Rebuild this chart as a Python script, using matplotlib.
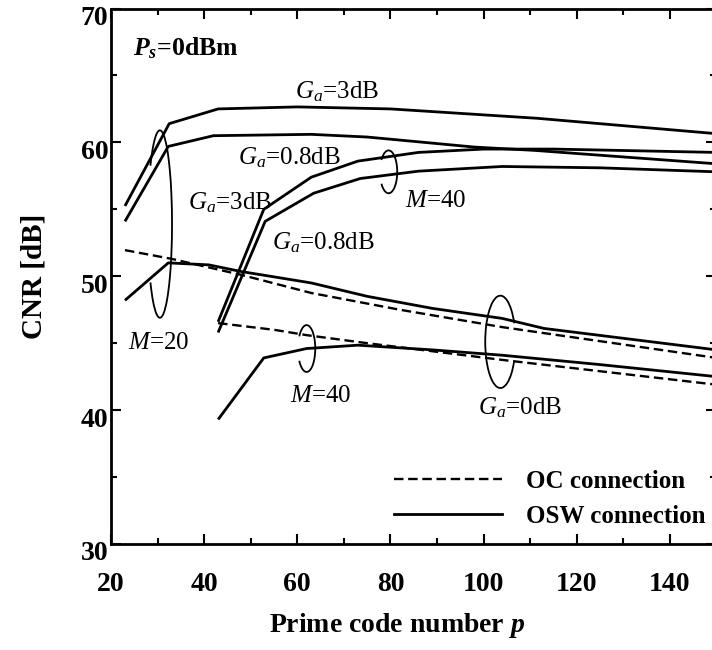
import matplotlib
matplotlib.use("Agg")
import matplotlib.pyplot as plt
from matplotlib.patches import Arc
from matplotlib.lines import Line2D
from matplotlib.ticker import MultipleLocator
from matplotlib.transforms import ScaledTranslation

plt.rcParams['font.family'] = ['Liberation Serif', 'DejaVu Serif']
plt.rcParams['mathtext.fontset'] = 'custom'
plt.rcParams['mathtext.rm'] = 'Liberation Serif'
plt.rcParams['mathtext.it'] = 'Liberation Serif:italic'
plt.rcParams['mathtext.bf'] = 'Liberation Serif:bold'
plt.rcParams['mathtext.bfit'] = 'Liberation Serif:bold:italic'

# CNR vs prime code number
# M=20, OSW connection
ga3_m20_x = [23, 32.5, 43, 60, 80, 111.5, 150]
ga3_m20_y = [55.25, 61.4, 62.5, 62.65, 62.5, 61.8, 60.65]
ga08_m20_x = [23, 32.3, 42, 63, 75, 98, 111, 150]
ga08_m20_y = [54.1, 59.7, 60.5, 60.6, 60.4, 59.65, 59.4, 58.4]
ga0_m20_osw_x = [23, 32.3, 41, 48, 63, 75, 89, 104, 113, 150]
ga0_m20_osw_y = [48.2, 51.0, 50.85, 50.35, 49.5, 48.5, 47.6, 46.85, 46.1, 44.5]
# M=20, OC connection
ga0_m20_oc_x = [23, 33, 48, 63, 82, 104, 150]
ga0_m20_oc_y = [51.95, 51.3, 50.1, 48.75, 47.5, 46.2, 43.9]

# M=40, OSW connection
ga3_m40_x = [43, 52.8, 63, 73, 86, 100, 115, 150]
ga3_m40_y = [46.6, 55.0, 57.4, 58.6, 59.25, 59.5, 59.5, 59.25]
ga08_m40_x = [43, 53.1, 63.5, 73.5, 86, 104, 125, 150]
ga08_m40_y = [45.8, 54.1, 56.2, 57.3, 57.85, 58.2, 58.1, 57.8]
ga0_m40_osw_x = [43, 52.8, 62, 73, 89, 104, 125, 150]
ga0_m40_osw_y = [39.3, 43.9, 44.6, 44.85, 44.5, 44.1, 43.4, 42.5]
# M=40, OC connection
ga0_m40_oc_x = [43, 55, 62, 75, 82, 104, 150]
ga0_m40_oc_y = [46.5, 46.0, 45.6, 45.0, 44.7, 43.75, 41.9]

fig = plt.figure(figsize=(7.12, 6.5), dpi=100)
ax = fig.add_axes([0.1559, 0.1631, 0.8504, 0.8238])

lw = 2.0
dash = (0, (4, 2))
for xs, ys in [(ga3_m20_x, ga3_m20_y), (ga08_m20_x, ga08_m20_y),
               (ga0_m20_osw_x, ga0_m20_osw_y), (ga3_m40_x, ga3_m40_y),
               (ga08_m40_x, ga08_m40_y), (ga0_m40_osw_x, ga0_m40_osw_y)]:
    ax.plot(xs, ys, color='black', lw=lw, solid_capstyle='butt')
for xs, ys in [(ga0_m20_oc_x, ga0_m20_oc_y), (ga0_m40_oc_x, ga0_m40_oc_y)]:
    ax.plot(xs, ys, color='black', lw=1.7, linestyle=dash)

ax.set_xlim(20, 150)
ax.set_ylim(30, 70)
ax.xaxis.set_major_locator(MultipleLocator(20))
ax.xaxis.set_minor_locator(MultipleLocator(10))
ax.yaxis.set_major_locator(MultipleLocator(10))
ax.yaxis.set_minor_locator(MultipleLocator(5))
ax.tick_params(which='both', direction='in', top=True, right=True, width=1.5)
ax.tick_params(which='major', length=7)
ax.tick_params(which='minor', length=4.5)
ax.tick_params(axis='x', which='major', pad=20)
ax.tick_params(axis='y', which='major', pad=2)
for lab in ax.get_xticklabels() + ax.get_yticklabels():
    lab.set_fontsize(20)
    lab.set_fontweight('bold')
shift = ScaledTranslation(0, -0.07, fig.dpi_scale_trans)
for lab in ax.get_yticklabels():
    lab.set_transform(lab.get_transform() + shift)
for s in ax.spines.values():
    s.set_linewidth(2)

ax.set_xlabel(r'Prime code number $\mathbfit{p}$', fontsize=20, fontweight='bold')
ax.set_ylabel('CNR [dB]', fontsize=21, fontweight='bold')
ax.xaxis.set_label_coords((397 - 111) / 605.5, -0.125)
ax.yaxis.set_label_coords(-0.105, 0.5)

# annotations
ax.text(24.7, 67.05, r'$\mathbfit{P}_{\mathbfit{s}}$=0dBm', fontsize=18.5, fontweight='bold', va='center')
txt = dict(fontsize=18, va='center')
ax.text(59.5, 63.76, r'$G_a$=3dB', **txt)
ax.text(47.3, 58.83, r'$G_a$=0.8dB', **txt)
ax.text(36.6, 55.47, r'$G_a$=3dB', **txt)
ax.text(54.6, 52.49, r'$G_a$=0.8dB', **txt)
ax.text(83.2, 55.62, r'$M$=40', **txt)
ax.text(23.7, 45.02, r'$M$=20', **txt)
ax.text(58.5, 41.06, r'$M$=40', **txt)
ax.text(98.7, 40.16, r'$G_a$=0dB', **txt)

arc_kw = dict(color='black', lw=1.3)
ax.add_patch(Arc((30.5, 53.9), 5.2, 14.0, theta1=-115, theta2=115, **arc_kw))
ax.add_patch(Arc((79.6, 57.8), 3.7, 3.2, theta1=-150, theta2=150, **arc_kw))
ax.add_patch(Arc((62.0, 44.6), 3.7, 3.5, theta1=-150, theta2=150, **arc_kw))
ax.add_patch(Arc((103.6, 45.1), 6.5, 6.9, theta1=25, theta2=335, **arc_kw))

handles = [Line2D([], [], color='black', lw=1.7, linestyle=dash),
           Line2D([], [], color='black', lw=lw)]
ax.legend(handles, ['OC connection', 'OSW connection'],
          loc='lower right', bbox_to_anchor=(705 / 712, 1 - 528 / 650),
          bbox_transform=fig.transFigure, frameon=False,
          prop={'weight': 'bold', 'size': 18}, handlelength=4.3,
          handletextpad=0.95, labelspacing=0.5, borderpad=0, borderaxespad=0)

fig.savefig('out.png', dpi=100)
